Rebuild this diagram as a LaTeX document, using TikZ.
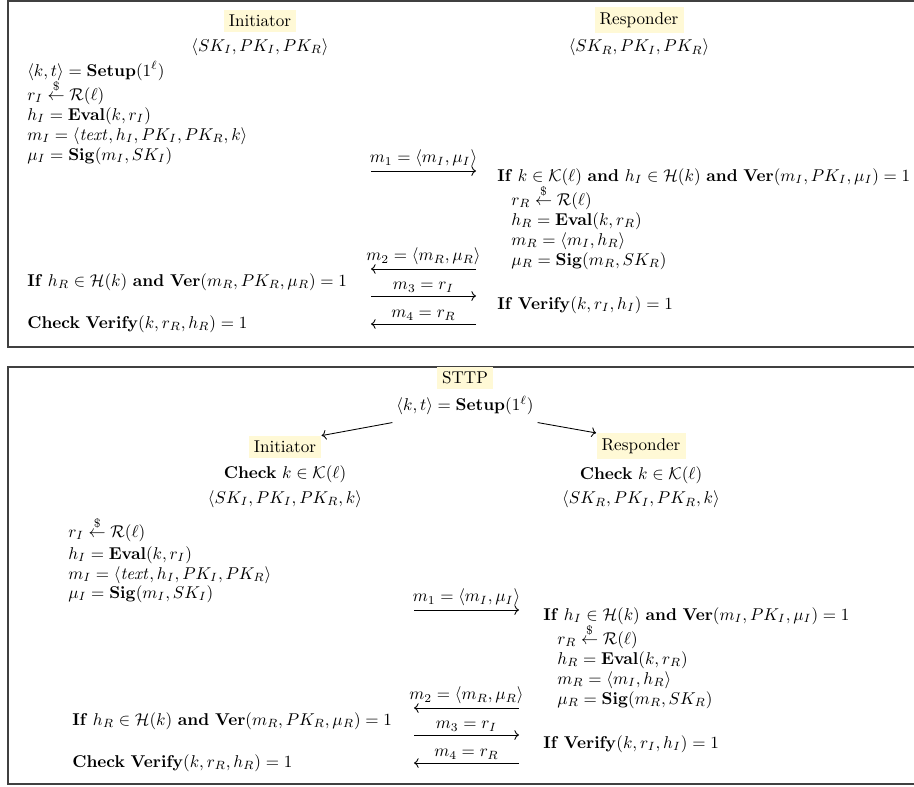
\documentclass[tikz,border=0pt]{standalone}
\usepackage{amsmath, amssymb}
\usepackage{tikz}
\usetikzlibrary{positioning,arrows.meta,calc}
\definecolor{namebg}{RGB}{255,249,214}

\begin{document}
\begin{tikzpicture}[
  x=0.585pt, y=-0.585pt,
  party/.style={fill=namebg, inner sep=3pt},
  line/.style={inner sep=0pt, anchor=base west},
  lbl/.style={above, inner sep=2pt},
  msg/.style={->, line width=0.5pt},
  frame/.style={draw=black!75, line width=0.8pt}
]
\useasboundingbox (0,0) rectangle (914,787);

% two protocols (boxes run past the right edge)
\draw[frame] (914,1) -- (8,1) -- (8,347) -- (914,347);
\draw[frame] (914,367) -- (8,367) -- (8,784) -- (914,784);

% --- without STTP ---
\node[party] (ini) at (260,21) {Initiator};
\node (inikeys) [below=0pt of ini] {$\langle SK_I, PK_I, PK_R\rangle$};
\node[party] (rsp) at (639,20) {Responder};
\node (rspkeys) [below=0pt of rsp] {$\langle SK_R, PK_I, PK_R\rangle$};

\node[line] (setupA) at (27,76) {$\langle k,t\rangle = \mathbf{Setup}(1^{\ell})$};
\node[line] (rIA) at (27,100) {$r_I \overset{\$}{\leftarrow} \mathcal{R}(\ell)$};
\node[line] (hIA) at (27,120) {$h_I = \mathbf{Eval}(k, r_I)$};
\node[line] (mIA) at (27,140) {$m_I = \langle \mathit{text}, h_I, PK_I, PK_R, k\rangle$};
\node[line] (muIA) at (27,160) {$\mu_I = \mathbf{Sig}(m_I, SK_I)$};

\node[line] (ifA) at (497,181) {\textbf{If} $k \in \mathcal{K}(\ell)$ \textbf{and} $h_I \in \mathcal{H}(k)$ \textbf{and} $\mathbf{Ver}(m_I, PK_I, \mu_I) = 1$};
\node[line] (rRA) at (511,205) {$r_R \overset{\$}{\leftarrow} \mathcal{R}(\ell)$};
\node[line] (hRA) at (511,225) {$h_R = \mathbf{Eval}(k, r_R)$};
\node[line] (mRA) at (511,245) {$m_R = \langle m_I, h_R\rangle$};
\node[line] (muRA) at (511,265) {$\mu_R = \mathbf{Sig}(m_R, SK_R)$};

\node[line] (chkA) at (27,286) {\textbf{If} $h_R \in \mathcal{H}(k)$ \textbf{and} $\mathbf{Ver}(m_R, PK_R, \mu_R) = 1$};
\node[line] (vfyA) at (497,309) {\textbf{If} $\mathbf{Verify}(k, r_I, h_I) = 1$};
\node[line] (endA) at (27,328) {\textbf{Check} $\mathbf{Verify}(k, r_R, h_R) = 1$};

\coordinate (lA1) at (371,171); \coordinate (rA1) at (476,171);
\coordinate (lA2) at (371,269); \coordinate (rA2) at (476,269);
\coordinate (lA3) at (371,296); \coordinate (rA3) at (476,296);
\coordinate (lA4) at (371,324); \coordinate (rA4) at (476,324);
\draw[msg] (lA1) -- node[lbl] (msgA1) {$m_1 = \langle m_I, \mu_I\rangle$} (rA1);
\draw[msg] (rA2) -- node[lbl] (msgA2) {$m_2 = \langle m_R, \mu_R\rangle$} (lA2);
\draw[msg] (lA3) -- node[lbl] (msgA3) {$m_3 = r_I$} (rA3);
\draw[msg] (rA4) -- node[lbl] (msgA4) {$m_4 = r_R$} (lA4);

% --- with STTP ---
\node[party] (sttp) at (465,378) {STTP};
\node (setupB) [below=0pt of sttp] {$\langle k,t\rangle = \mathbf{Setup}(1^{\ell})$};
\node[party] (ini2) at (285,447) {Initiator};
\node (kchkL) [below=1pt of ini2] {\textbf{Check} $k \in \mathcal{K}(\ell)$};
\node (keysL) [below=-3pt of kchkL] {$\langle SK_I, PK_I, PK_R, k\rangle$};
\node[party] (rsp2) at (641,446) {Responder};
\node (kchkR) [below=1pt of rsp2] {\textbf{Check} $k \in \mathcal{K}(\ell)$};
\node (keysR) [below=-3pt of kchkR] {$\langle SK_R, PK_I, PK_R, k\rangle$};

\draw[msg] ($(setupB.south west)+(2,2)$) -- (ini2.north east);
\draw[msg] ($(setupB.south east)+(-2,2)$) -- (rsp2.north west);

\node[line] (rIB) at (68,537) {$r_I \overset{\$}{\leftarrow} \mathcal{R}(\ell)$};
\node[line] (hIB) at (68,559) {$h_I = \mathbf{Eval}(k, r_I)$};
\node[line] (mIB) at (68,579) {$m_I = \langle \mathit{text}, h_I, PK_I, PK_R\rangle$};
\node[line] (muIB) at (68,598) {$\mu_I = \mathbf{Sig}(m_I, SK_I)$};

\node[line] (ifB) at (543,620) {\textbf{If} $h_I \in \mathcal{H}(k)$ \textbf{and} $\mathbf{Ver}(m_I, PK_I, \mu_I) = 1$};
\node[line] (rRB) at (557,644) {$r_R \overset{\$}{\leftarrow} \mathcal{R}(\ell)$};
\node[line] (hRB) at (557,664) {$h_R = \mathbf{Eval}(k, r_R)$};
\node[line] (mRB) at (557,684) {$m_R = \langle m_I, h_R\rangle$};
\node[line] (muRB) at (557,704) {$\mu_R = \mathbf{Sig}(m_R, SK_R)$};

\node[line] (chkB) at (72,725) {\textbf{If} $h_R \in \mathcal{H}(k)$ \textbf{and} $\mathbf{Ver}(m_R, PK_R, \mu_R) = 1$};
\node[line] (vfyB) at (543,748) {\textbf{If} $\mathbf{Verify}(k, r_I, h_I) = 1$};
\node[line] (endB) at (72,767) {\textbf{Check} $\mathbf{Verify}(k, r_R, h_R) = 1$};

\coordinate (lB1) at (414,610); \coordinate (rB1) at (519,610);
\coordinate (lB2) at (414,708); \coordinate (rB2) at (519,708);
\coordinate (lB3) at (414,735); \coordinate (rB3) at (519,735);
\coordinate (lB4) at (414,763); \coordinate (rB4) at (519,763);
\draw[msg] (lB1) -- node[lbl] (msgB1) {$m_1 = \langle m_I, \mu_I\rangle$} (rB1);
\draw[msg] (rB2) -- node[lbl] (msgB2) {$m_2 = \langle m_R, \mu_R\rangle$} (lB2);
\draw[msg] (lB3) -- node[lbl] (msgB3) {$m_3 = r_I$} (rB3);
\draw[msg] (rB4) -- node[lbl] (msgB4) {$m_4 = r_R$} (lB4);

\end{tikzpicture}
\end{document}
